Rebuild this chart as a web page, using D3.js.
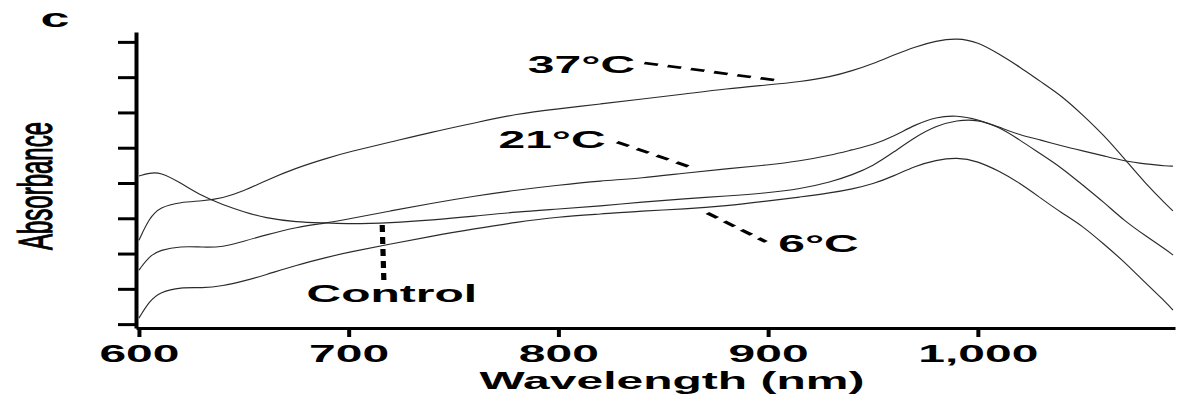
<!DOCTYPE html>
<html>
<head>
<meta charset="utf-8">
<script src="https://cdn.jsdelivr.net/npm/d3@7"></script>
<style>
  body { margin: 0; background: #fff; }
  svg text { font-family: "Liberation Sans", Arial, Helvetica, sans-serif; fill: #000; }
</style>
</head>
<body>
<svg id="chart"></svg>
<script>
// Wavelength samples (nm) shared by every spectrum
const wavelengths = [600, 605, 610, 620, 630, 640, 650, 660, 675, 690, 700, 720, 740, 760, 780, 800,
  820, 840, 860, 880, 900, 915, 930, 940, 950, 960, 970, 980, 990, 1000, 1010, 1020, 1030, 1040,
  1050, 1060, 1070, 1080, 1090, 1093];

// Absorbance (arbitrary units, one unit per y tick)
const abs37 = [2.38, 3.01, 3.32, 3.46, 3.49, 3.57, 3.77, 4.06, 4.43, 4.71, 4.88, 5.16, 5.45, 5.70, 5.96, 6.10,
  6.24, 6.38, 6.52, 6.67, 6.78, 6.87, 7.01, 7.18, 7.38, 7.63, 7.86, 8.03, 8.11, 8.00, 7.66, 7.29, 6.87, 6.47,
  5.93, 5.36, 4.68, 3.98, 3.38, 3.21];
const abs21 = [1.53, 1.93, 2.10, 2.21, 2.18, 2.18, 2.35, 2.52, 2.75, 2.87, 2.98, 3.21, 3.43, 3.63, 3.80, 3.94,
  4.06, 4.14, 4.28, 4.40, 4.51, 4.62, 4.79, 4.94, 5.08, 5.33, 5.65, 5.87, 5.92, 5.80, 5.59, 5.22, 4.82, 4.43,
  3.94, 3.46, 2.92, 2.50, 2.10, 1.96];
const absControl = [4.20, 4.28, 4.31, 4.00, 3.63, 3.38, 3.18, 3.01, 2.89, 2.87, 2.84, 2.87, 2.95, 3.06, 3.18, 3.26,
  3.35, 3.46, 3.55, 3.63, 3.72, 3.83, 4.03, 4.23, 4.48, 4.88, 5.30, 5.62, 5.78, 5.80, 5.59, 5.36, 5.22, 5.05,
  4.91, 4.77, 4.62, 4.54, 4.48, 4.48];
const abs6 = [0.17, 0.65, 0.91, 1.05, 1.02, 1.08, 1.22, 1.39, 1.67, 1.90, 2.04, 2.27, 2.50, 2.70, 2.89, 3.04,
  3.12, 3.21, 3.26, 3.35, 3.49, 3.60, 3.72, 3.83, 3.97, 4.20, 4.48, 4.65, 4.73, 4.62, 4.34, 4.00, 3.57, 3.15,
  2.78, 2.27, 1.76, 1.16, 0.60, 0.40];

const xTicks = [600, 700, 800, 900, 1000];
const yTicks = [0, 1, 2, 3, 4, 5, 6, 7, 8];

// Curve labels with dashed leaders (data units)
const annotations = [
  { text: "37°C", at: [811, 7.12], from: [841, 7.40], to: [903, 6.92] },
  { text: "21°C", at: [797, 4.99], from: [828, 5.16], to: [864, 4.43] },
  { text: "6°C", at: [924, 2.04], from: [871, 3.15], to: [899, 2.33] },
  { text: "Control", at: [720.6, 0.62], from: [716, 2.81], to: [716.8, 1.19] }
];

const width = 1180;
const height = 395;
const stretch = 2; // the figure is drawn widened horizontally

const svg = d3.select("#chart")
  .attr("width", width)
  .attr("height", height);

const x = d3.scaleLinear().domain([598.6, 1094]).range([136, 1175]);
const y = d3.scaleLinear().domain([-0.11, 8.28]).range([328, 32]);

// Spectra
const series = [abs37, abs21, absControl, abs6];
const line = d3.line()
  .x(d => x(d[0]))
  .y(d => y(d[1]))
  .curve(d3.curveBasis);

svg.selectAll(".spectrum")
  .data(series)
  .enter()
  .append("path")
  .attr("class", "spectrum")
  .attr("d", s => line(wavelengths.map((w, i) => [w, s[i]])))
  .attr("fill", "none")
  .attr("stroke", "#2a2a2a")
  .attr("stroke-width", 1.15);

// Y axis (no labels)
const yAxis = svg.append("g")
  .attr("transform", "translate(136,0)")
  .call(d3.axisLeft(y).tickValues(yTicks).tickSize(18).tickSizeOuter(0).tickFormat(""));
yAxis.select(".domain").attr("stroke", "#000").attr("stroke-width", 4);
yAxis.selectAll(".tick line").attr("stroke", "#000").attr("stroke-width", 3);

// X axis
const xAxis = svg.append("g")
  .attr("transform", "translate(0,328)")
  .call(d3.axisBottom(x).tickValues(xTicks).tickSize(9).tickPadding(8).tickSizeOuter(0)
    .tickFormat(d3.format(",")));
xAxis.select(".domain").attr("stroke", "#000").attr("stroke-width", 3);
xAxis.selectAll(".tick line").attr("stroke", "#000").attr("stroke-width", 4);
xAxis.selectAll(".tick text")
  .attr("font-size", 24)
  .attr("font-weight", "bold")
  .attr("fill", "#000")
  .attr("transform", `scale(${stretch},1)`);

// Axis titles
svg.append("text")
  .attr("transform", `translate(672,389) scale(${stretch},1)`)
  .attr("text-anchor", "middle")
  .attr("font-size", 24)
  .attr("font-weight", "bold")
  .text("Wavelength (nm)");

svg.append("text")
  .attr("transform", `translate(35,186) scale(${stretch},1) rotate(-90)`)
  .attr("text-anchor", "middle")
  .attr("dy", "0.35em")
  .attr("font-size", 24)
  .attr("stroke", "#000")
  .attr("stroke-width", 0.6)
  .text("Absorbance");

// Panel letter
svg.append("text")
  .attr("transform", `translate(55,27) scale(${stretch},1)`)
  .attr("text-anchor", "middle")
  .attr("font-size", 26)
  .attr("font-weight", "bold")
  .text("c");

// Leaders, drawn in the unstretched frame so dashes widen like the text
const leaders = svg.append("g").attr("transform", `scale(${stretch},1)`);
leaders.selectAll("line")
  .data(annotations)
  .enter()
  .append("line")
  .attr("x1", d => x(d.from[0]) / stretch)
  .attr("y1", d => y(d.from[1]))
  .attr("x2", d => x(d.to[0]) / stretch)
  .attr("y2", d => y(d.to[1]))
  .attr("stroke", "#000")
  .attr("stroke-width", 2.6)
  .attr("stroke-dasharray", "7,5");

svg.selectAll(".curve-label")
  .data(annotations)
  .enter()
  .append("text")
  .attr("class", "curve-label")
  .attr("transform", d => `translate(${x(d.at[0])},${y(d.at[1])}) scale(${stretch},1)`)
  .attr("text-anchor", "middle")
  .attr("font-size", 24)
  .attr("font-weight", "bold")
  .text(d => d.text);
</script>
</body>
</html>
